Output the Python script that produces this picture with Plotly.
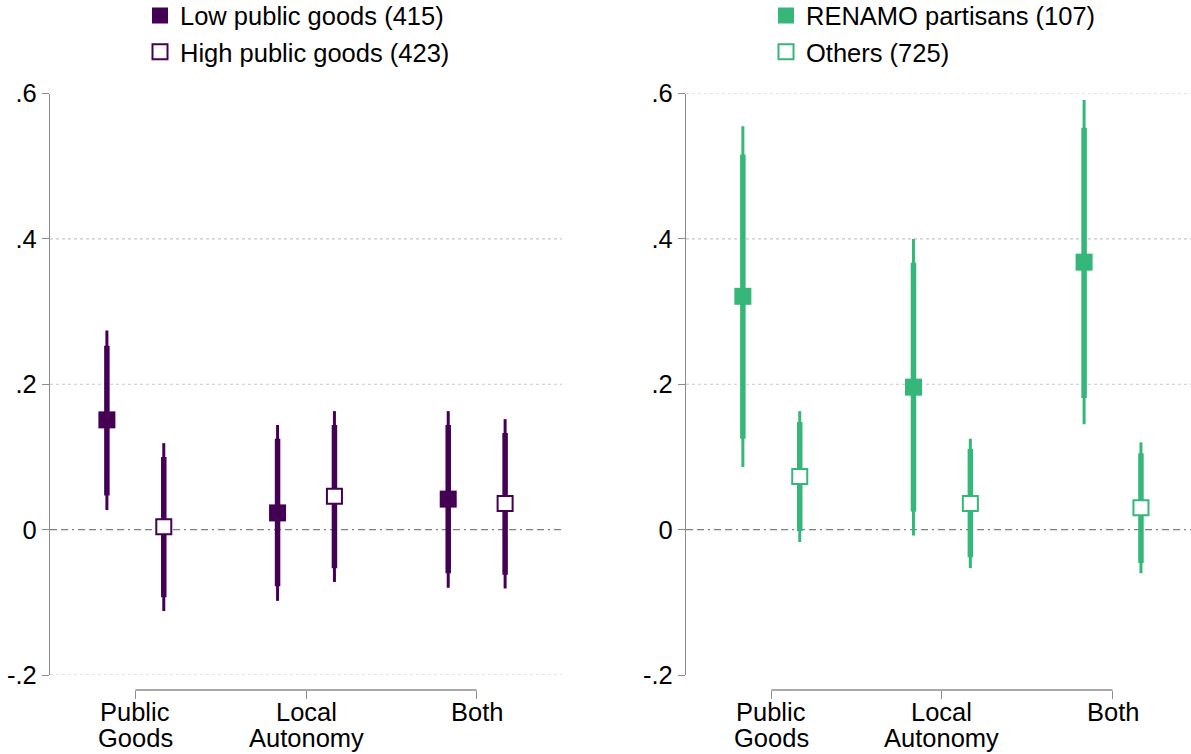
import plotly.graph_objects as go

W, H = 1191, 754

cat_line1 = ["Public", "Local", "Both"]
cat_line2 = ["Goods", "Autonomy", ""]
ytick_vals = [-0.2, 0, 0.2, 0.4, 0.6]
ytick_text = ["-.2", "0", ".2", ".4", ".6"]

# Left panel: public goods
low_pg_est = [0.151, 0.023, 0.042]
low_pg_lo95 = [0.027, -0.098, -0.080]
low_pg_hi95 = [0.274, 0.144, 0.163]
low_pg_lo90 = [0.047, -0.078, -0.060]
low_pg_hi90 = [0.253, 0.125, 0.144]

high_pg_est = [0.004, 0.046, 0.036]
high_pg_lo95 = [-0.112, -0.072, -0.081]
high_pg_hi95 = [0.119, 0.163, 0.152]
high_pg_lo90 = [-0.093, -0.053, -0.062]
high_pg_hi90 = [0.100, 0.144, 0.133]

# Right panel: partisanship
ren_est = [0.321, 0.196, 0.368]
ren_lo95 = [0.086, -0.008, 0.145]
ren_hi95 = [0.555, 0.400, 0.591]
ren_lo90 = [0.125, 0.025, 0.181]
ren_hi90 = [0.516, 0.367, 0.553]

oth_est = [0.073, 0.036, 0.030]
oth_lo95 = [-0.017, -0.053, -0.060]
oth_hi95 = [0.163, 0.125, 0.120]
oth_lo90 = [-0.002, -0.038, -0.046]
oth_hi90 = [0.148, 0.111, 0.105]

PURPLE = "#440154"
GREEN = "#35b779"
FONT = "Liberation Sans, Arial, sans-serif"
FS = 25.5

fig = go.Figure()

def add_series(xaxis, yaxis, legend, name, offset, est, lo95, hi95, lo90, hi90, color, filled):
    xs = [i + 1 + offset for i in range(len(est))]
    fig.add_trace(go.Scatter(
        x=xs, y=est, mode="markers", xaxis=xaxis, yaxis=yaxis,
        marker=dict(size=1, opacity=0), showlegend=False, hoverinfo="skip",
        error_y=dict(type="data", symmetric=False,
                     array=[h - e for h, e in zip(hi95, est)],
                     arrayminus=[e - l for e, l in zip(est, lo95)],
                     color=color, thickness=3, width=0),
        cliponaxis=False))
    fig.add_trace(go.Scatter(
        x=xs, y=est, mode="markers", xaxis=xaxis, yaxis=yaxis,
        marker=dict(size=1, opacity=0), showlegend=False, hoverinfo="skip",
        error_y=dict(type="data", symmetric=False,
                     array=[h - e for h, e in zip(hi90, est)],
                     arrayminus=[e - l for e, l in zip(est, lo90)],
                     color=color, thickness=5.5, width=0),
        cliponaxis=False))
    if filled:
        mk = dict(symbol="square", size=17, color=color, line=dict(width=0))
    else:
        mk = dict(symbol="square", size=15, color="white", line=dict(width=2, color=color))
    fig.add_trace(go.Scatter(
        x=xs, y=est, mode="markers", xaxis=xaxis, yaxis=yaxis, name=name,
        marker=mk, legend=legend, cliponaxis=False))

OFF = 1 / 6
add_series("x", "y", "legend", "Low public goods (415)", -OFF,
           low_pg_est, low_pg_lo95, low_pg_hi95, low_pg_lo90, low_pg_hi90, PURPLE, True)
add_series("x", "y", "legend", "High public goods (423)", OFF,
           high_pg_est, high_pg_lo95, high_pg_hi95, high_pg_lo90, high_pg_hi90, PURPLE, False)
add_series("x2", "y2", "legend2", "RENAMO partisans (107)", -OFF,
           ren_est, ren_lo95, ren_hi95, ren_lo90, ren_hi90, GREEN, True)
add_series("x2", "y2", "legend2", "Others (725)", OFF,
           oth_est, oth_lo95, oth_hi95, oth_lo90, oth_hi90, GREEN, False)

ydom = [(H - 675) / H, (H - 93.5) / H]
xpos = (H - 690) / H
AXC = "#8c8c8c"

def xaxis_cfg(dom, rng):
    return dict(domain=dom, range=rng, anchor="free", position=xpos,
                showline=False, showgrid=False, zeroline=False, automargin=False,
                tickmode="array", tickvals=[1, 2, 3], showticklabels=False,
                ticks="outside", ticklen=8, tickwidth=1.3, tickcolor=AXC,
                fixedrange=True)

def yaxis_cfg(xname):
    return dict(domain=ydom, range=[-0.2, 0.6], anchor=xname,
                showline=True, linecolor=AXC, linewidth=1.3,
                showgrid=False, zeroline=False, automargin=False,
                tickmode="array", tickvals=ytick_vals, ticktext=ytick_text,
                ticks="outside", ticklen=7, tickwidth=1.3, tickcolor=AXC,
                tickfont=dict(family=FONT, size=FS, color="black"), fixedrange=True)

leg_common = dict(xanchor="left", yanchor="top",
                  font=dict(family=FONT, size=FS, color="black"),
                  bgcolor="rgba(0,0,0,0)", tracegroupgap=0, itemsizing="trace")

fig.update_layout(
    template="none",
    width=W, height=H,
    margin=dict(l=0, r=0, t=0, b=0, autoexpand=False),
    paper_bgcolor="white", plot_bgcolor="white",
    xaxis=xaxis_cfg([50 / W, 562 / W], [0.5, 3.5]),
    yaxis=yaxis_cfg("x"),
    xaxis2=xaxis_cfg([686 / W, 1.0], [0.5, 3.46]),
    yaxis2=yaxis_cfg("x2"),
    legend=dict(x=140 / W, y=1.010, **leg_common),
    legend2=dict(x=766 / W, y=1.010, **leg_common),
    showlegend=True,
)

shapes = []
for xr, yr, vals in [("x domain", "y", [0.4, 0.2, -0.2]), ("x2 domain", "y2", [0.6, 0.4, 0.2])]:
    for v in vals:
        shapes.append(dict(type="line", xref=xr, yref=yr, x0=0, x1=1, y0=v, y1=v,
                           line=dict(color="#c8c8c8", width=1.2, dash="dot"), layer="below"))
    shapes.append(dict(type="line", xref=xr, yref=yr, x0=0, x1=1, y0=0, y1=0,
                       line=dict(color="#808080", width=1.3, dash="7px,4px,7px,4px,2px,4px"),
                       layer="below"))
for xr in ["x", "x2"]:
    shapes.append(dict(type="line", xref=xr, yref="paper", x0=1, x1=3, y0=xpos, y1=xpos,
                       line=dict(color=AXC, width=1.3)))
fig.update_layout(shapes=shapes)

# category labels (two lines, tight spacing)
annotations = []
for xr in ["x", "x2"]:
    for lines, ypx in [(cat_line1, 712), (cat_line2, 738)]:
        for i, t in enumerate(lines):
            if t:
                annotations.append(dict(x=i + 1, y=(H - ypx) / H, xref=xr, yref="paper",
                                        text=t, showarrow=False, xanchor="center", yanchor="middle",
                                        font=dict(family=FONT, size=FS, color="black")))
fig.update_layout(annotations=annotations)

fig.write_html("out.html", config={"displayModeBar": False},
               post_script="document.body.style.margin='0px';document.body.style.overflow='hidden';")
